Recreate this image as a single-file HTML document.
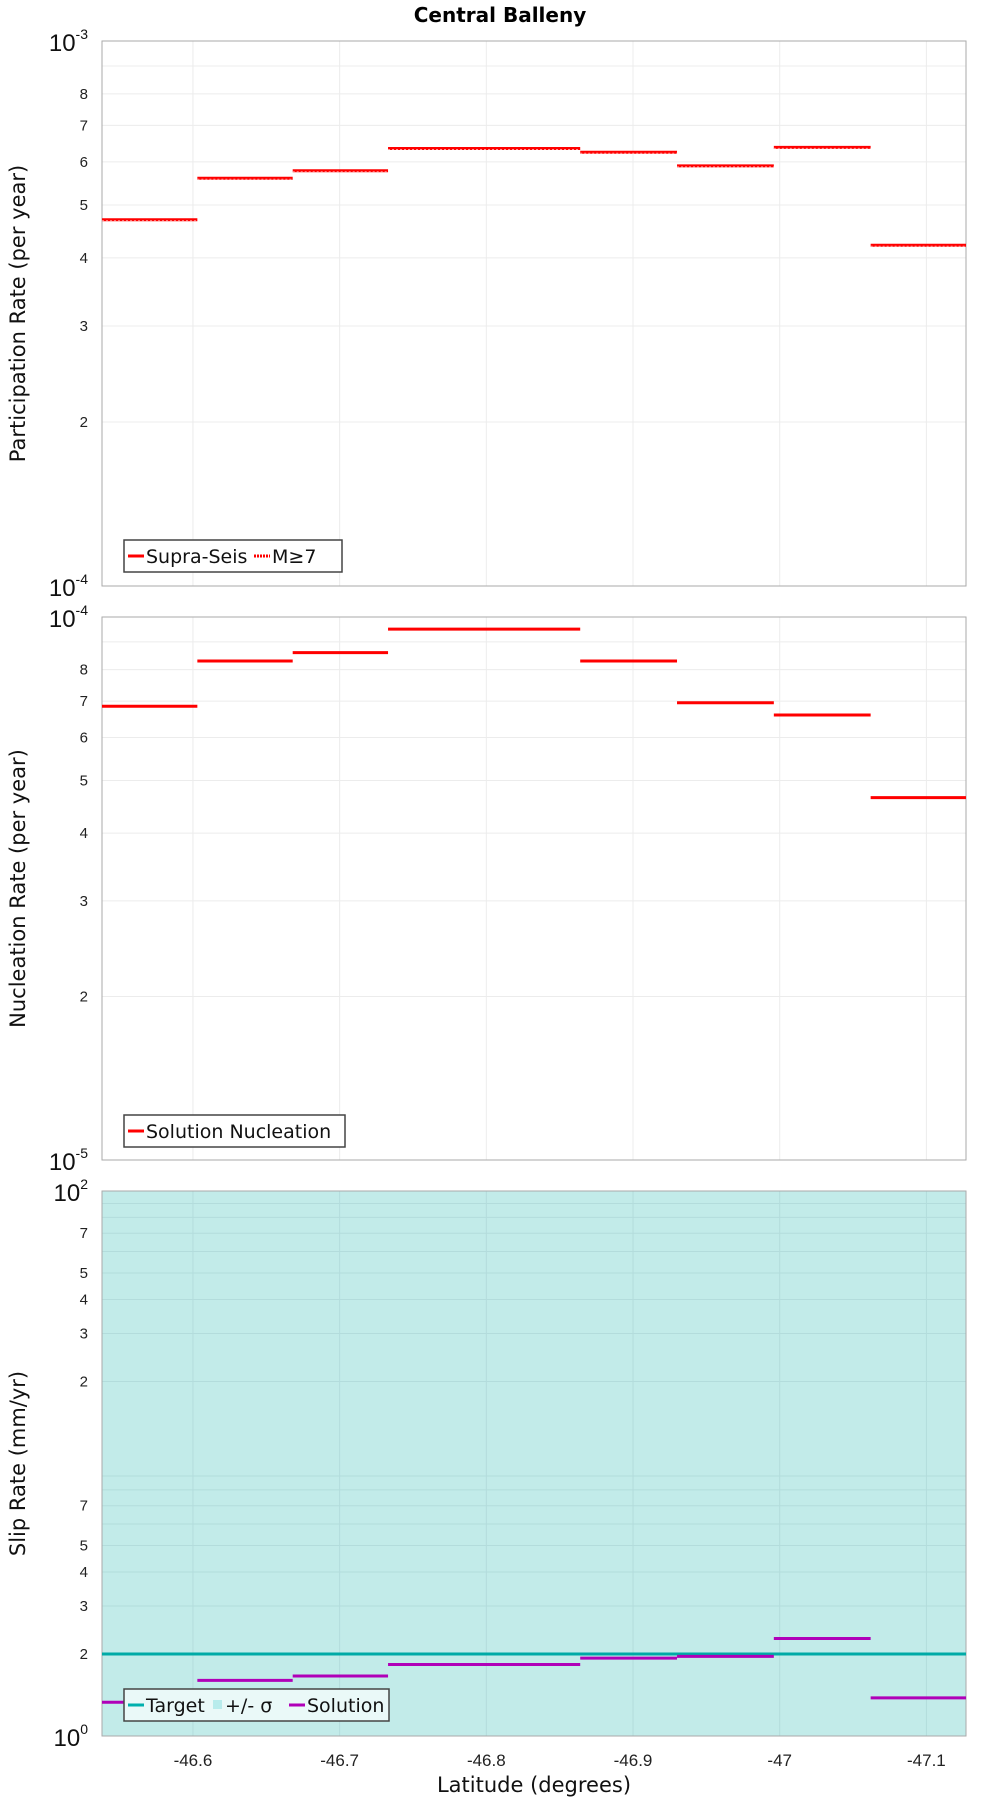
<!DOCTYPE html>
<html><head><meta charset="utf-8"><style>
html,body{margin:0;padding:0;background:#fff;}
svg{display:block;font-family:"DejaVu Sans","Liberation Sans",sans-serif;}
.tk{font-family:"Liberation Sans",sans-serif;font-size:15px;fill:#222;}
</style></head><body>
<svg id="chart" width="1000" height="1800" viewBox="0 0 1000 1800" xmlns="http://www.w3.org/2000/svg">
<text x="500" y="22" text-anchor="middle" font-weight="bold" font-size="20">Central Balleny</text>
<g id="layer"></g>
</svg>
<script>
const xTicks=[-46.6,-46.7,-46.8,-46.9,-47,-47.1];
const xTickLabels=["-46.6","-46.7","-46.8","-46.9","-47","-47.1"];
const segStarts=[-46.538,-46.603,-46.668,-46.733,-46.864,-46.930,-46.996,-47.062];
const segEnds=[-46.603,-46.668,-46.733,-46.864,-46.930,-46.996,-47.062,-47.127];
const partRates=[4.7e-4,5.6e-4,5.78e-4,6.35e-4,6.25e-4,5.9e-4,6.38e-4,4.22e-4];
const nuclRates=[6.85e-5,8.3e-5,8.6e-5,9.5e-5,8.3e-5,6.95e-5,6.6e-5,4.65e-5];
const slipSolution=[1.33,1.6,1.66,1.83,1.93,1.96,2.28,1.38];
const slipTarget=[2.0];
const XMIN=-46.538,XMAX=-47.127,L=102,R=966;
const NS="http://www.w3.org/2000/svg";
const layer=document.getElementById('layer');
function X(v){return L+(v-XMIN)/(XMAX-XMIN)*(R-L);}
function mk(tag,attrs,parent){const e=document.createElementNS(NS,tag);for(const k in attrs)e.setAttribute(k,attrs[k]);(parent||layer).appendChild(e);return e;}
function panel(top,bot,lo,hi,label,name,bg){
  const g=mk('g',{});
  
  
  const Y=v=>bot-(Math.log10(v)-Math.log10(lo))/(Math.log10(hi)-Math.log10(lo))*(bot-top);
  mk('rect',{x:L,y:top,width:R-L,height:bot-top,fill:bg},g);
  const decades=Math.round(Math.log10(hi/lo));
  const labelSet=decades===1?[2,3,4,5,6,7,8]:[2,3,4,5,7];
  for(let d=0;d<decades;d++){const base=lo*Math.pow(10,d);
    for(let m=2;m<=9;m++){const y=Y(base*m);
      mk('line',{x1:L,x2:R,y1:y,y2:y,stroke:bg==='#fff'?'#ececec':'#b3dcdc','stroke-width':1},g);
      if(labelSet.includes(m)){const t=mk('text',{x:L-14,y:y+5,'text-anchor':'end',class:'tk'},g);t.textContent=m;}
    }}
  xTicks.forEach(v=>{mk('line',{x1:X(v),x2:X(v),y1:top,y2:bot,stroke:bg==='#fff'?'#ececec':'#b3dcdc'},g);});
  mk('rect',{x:L,y:top,width:R-L,height:bot-top,fill:'none',stroke:'#aaa'},g);
  const e0=Math.round(Math.log10(lo)),e1=Math.round(Math.log10(hi));
  [[e1,top],[e0,bot]].forEach(([e,y])=>{const t=mk('text',{x:L-14,y:y+10,'text-anchor':'end','font-family':'Liberation Sans,sans-serif','font-size':24,fill:'#111'},g);
    t.textContent='10';const s=mk('tspan',{dy:-12,'font-size':14},t);s.textContent=e;});
  const yl=mk('text',{x:0,y:0,transform:`translate(25,${(top+bot)/2}) rotate(-90)`,'text-anchor':'middle','font-size':21,fill:'#111'},g);
  
  
  yl.textContent=label;
  return {g,Y};
}
function segs(p,vals,color,name,dotted){
  vals.forEach((v,i)=>{const l=mk('line',{x1:X(segStarts[i]),x2:X(segEnds[i]),y1:p.Y(v),y2:p.Y(v),stroke:color,'stroke-width':3},p.g);
    
    
    if(dotted){const d=mk('line',{x1:X(segStarts[i]),x2:X(segEnds[i]),y1:p.Y(v)+1,y2:p.Y(v)+1,stroke:'#ff9a9a','stroke-width':1,'stroke-dasharray':'2 2'},p.g);}
  });
}
function legend(x,y,w,items,name,fill){
  const g=mk('g',{});
  
  
  mk('rect',{x:x,y:y,width:w,height:32,fill:fill,stroke:'#444','stroke-width':1.5},g);
  let cx=x+4;
  items.forEach(it=>{
    if(it.sq){mk('rect',{x:cx+2,y:y+11,width:9,height:9,fill:it.c},g);cx+=14;}
    else{mk('line',{x1:cx,x2:cx+16,y1:y+16,y2:y+16,stroke:it.c,'stroke-width':3,'stroke-dasharray':it.d||''},g);cx+=18;}
    const t=mk('text',{x:cx,y:y+23,'font-size':19,fill:'#111'},g);t.textContent=it.t;cx+=it.w;
  });
}
// Panel 1
const p1=panel(41,586,1e-4,1e-3,'Participation Rate (per year)','participation-panel','#fff');
segs(p1,partRates,'#ff0000','participation-bar',true);
legend(124,540,218,[{c:'#f00',t:'Supra-Seis',w:108},{c:'#f00',d:'2 1',t:'M≥7',w:50}],'participation-legend','#fff');
// Panel 2
const p2=panel(617,1160,1e-5,1e-4,'Nucleation Rate (per year)','nucleation-panel','#fff');
segs(p2,nuclRates,'#ff0000','nucleation-bar',false);
legend(124,1115,221,[{c:'#f00',t:'Solution Nucleation',w:196}],'nucleation-legend','#fff');
// Panel 3
const p3=panel(1191,1736,1,100,'Slip Rate (mm/yr)','slip-panel','#c2ebe9');
const ty=p3.Y(slipTarget[0]);
const tl=mk('line',{x1:L,x2:R,y1:ty,y2:ty,stroke:'#00aaa6','stroke-width':3},p3.g);


segs(p3,slipSolution,'#b000b8','solution-bar',false);
legend(124,1689,265,[{c:'#00b0ad',t:'Target',w:65},{c:'#b8ecec',sq:true,t:'+/- σ',w:64},{c:'#b000b8',t:'Solution',w:90}],'slip-legend','#eaf9f8');
// x-axis
xTicks.forEach((v,i)=>{const t=mk('text',{x:X(v),y:1766,'text-anchor':'middle',class:'tk',style:'font-size:17px'});
  
  
  t.textContent=xTickLabels[i];});
const xt=mk('text',{x:534,y:1792,'text-anchor':'middle','font-size':21,fill:'#111'});


xt.textContent='Latitude (degrees)';
</script>
</body></html>
